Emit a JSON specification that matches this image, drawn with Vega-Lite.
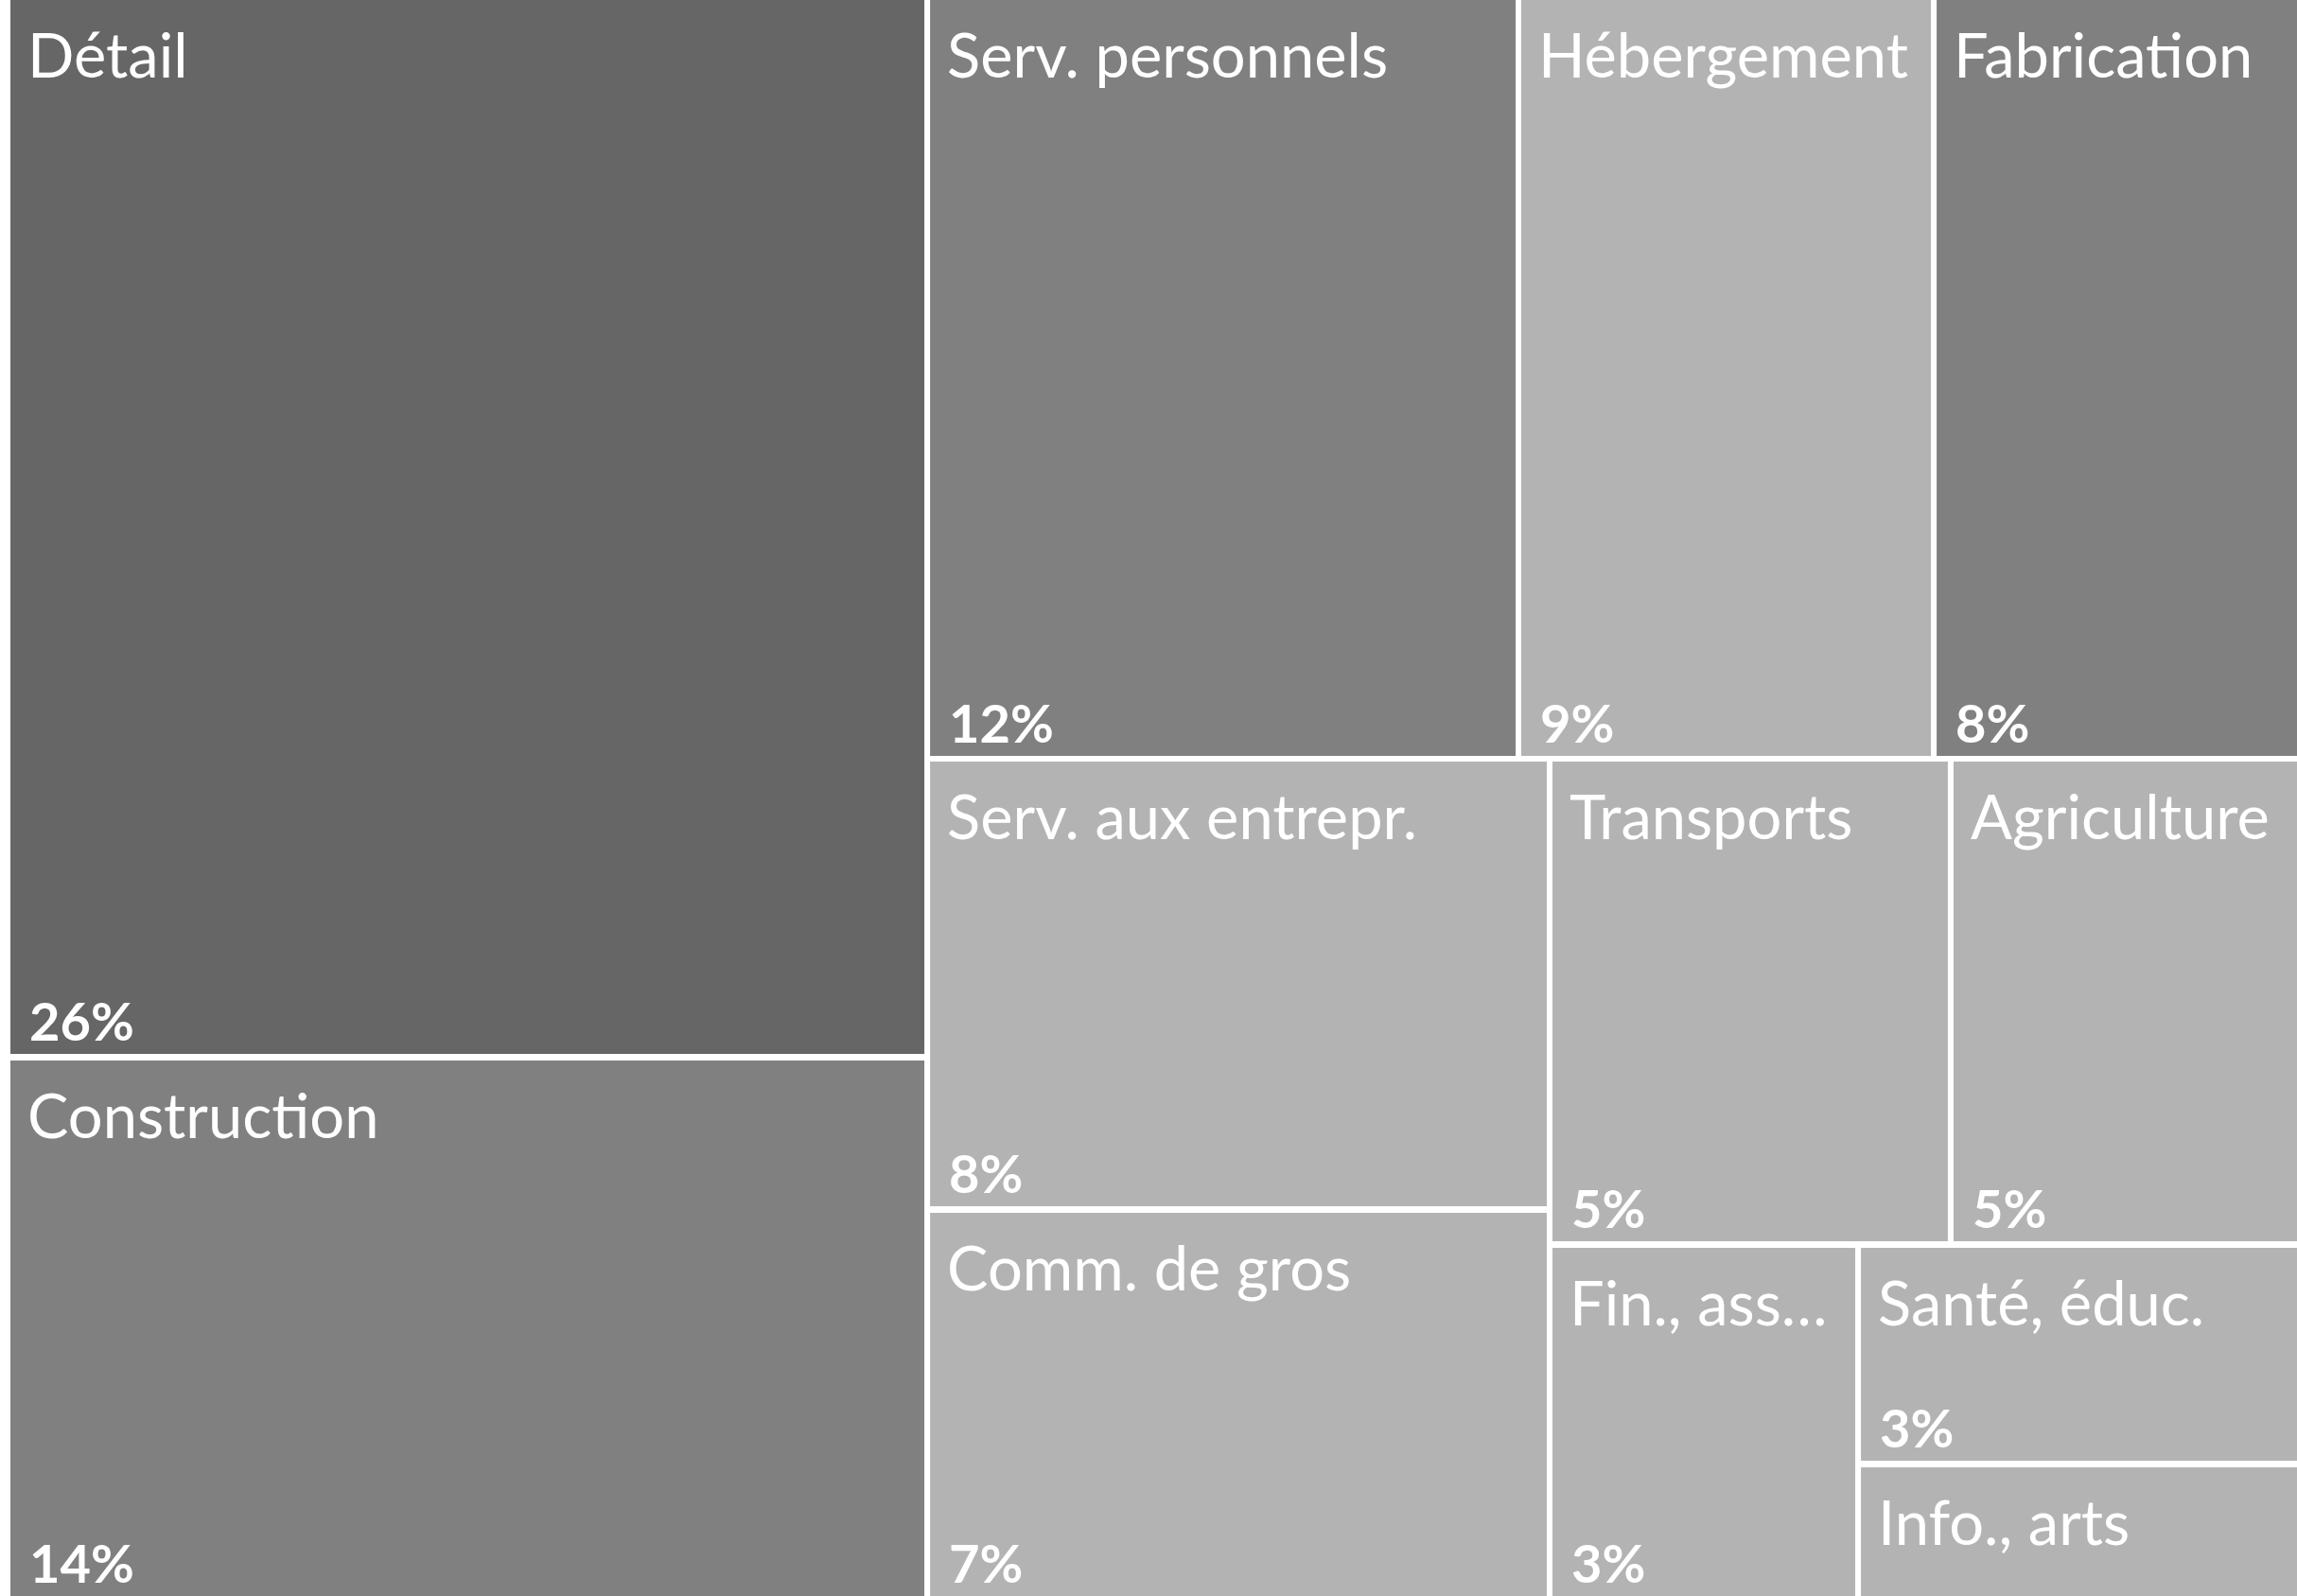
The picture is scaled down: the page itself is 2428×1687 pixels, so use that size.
{
  "$schema": "https://vega.github.io/schema/vega-lite/v6.json",
  "width": 2428,
  "height": 1687,
  "autosize": {"type": "fit", "contains": "padding"},
  "padding": {"left": 11, "right": 0, "top": 0, "bottom": 0},
  "background": "white",
  "config": {"view": {"stroke": null}},
  "data": {
    "values": [
      {"secteur": "Détail", "pct": "26%", "niveau": "a", "x0": 0, "x1": 39.97, "y0": 0, "y1": 66.03},
      {"secteur": "Construction", "pct": "14%", "niveau": "b", "x0": 0, "x1": 39.97, "y0": 66.45, "y1": 100},
      {"secteur": "Serv. personnels", "pct": "12%", "niveau": "b", "x0": 40.22, "x1": 65.83, "y0": 0, "y1": 47.36},
      {"secteur": "Hébergement", "pct": "9%", "niveau": "c", "x0": 66.07, "x1": 83.99, "y0": 0, "y1": 47.36},
      {"secteur": "Fabrication", "pct": "8%", "niveau": "b", "x0": 84.24, "x1": 100, "y0": 0, "y1": 47.36},
      {"secteur": "Serv. aux entrepr.", "pct": "8%", "niveau": "c", "x0": 40.22, "x1": 67.19, "y0": 47.72, "y1": 75.58},
      {"secteur": "Comm. de gros", "pct": "7%", "niveau": "c", "x0": 40.22, "x1": 67.19, "y0": 75.99, "y1": 100},
      {"secteur": "Transports", "pct": "5%", "niveau": "c", "x0": 67.44, "x1": 84.73, "y0": 47.72, "y1": 77.77},
      {"secteur": "Agriculture", "pct": "5%", "niveau": "c", "x0": 84.98, "x1": 100, "y0": 47.72, "y1": 77.77},
      {"secteur": "Fin., ass…", "pct": "3%", "niveau": "c", "x0": 67.44, "x1": 80.68, "y0": 78.19, "y1": 100},
      {"secteur": "Santé, éduc.", "pct": "3%", "niveau": "c", "x0": 80.93, "x1": 100, "y0": 78.19, "y1": 91.52},
      {"secteur": "Info., arts", "pct": "", "niveau": "c", "x0": 80.93, "x1": 100, "y0": 91.94, "y1": 100}
    ]
  },
  "layer": [
    {
      "mark": {"type": "rect"},
      "encoding": {
        "x": {"field": "x0", "type": "quantitative", "scale": {"domain": [0, 100], "nice": false, "zero": false}, "axis": null},
        "x2": {"field": "x1"},
        "y": {"field": "y0", "type": "quantitative", "scale": {"domain": [0, 100], "nice": false, "zero": false, "reverse": true}, "axis": null},
        "y2": {"field": "y1"},
        "color": {"field": "niveau", "type": "nominal", "scale": {"domain": ["a", "b", "c"], "range": ["#666666", "#808080", "#b3b3b3"]}, "legend": null}
      }
    },
    {
      "mark": {"type": "text", "align": "left", "baseline": "alphabetic", "dx": 18, "dy": 82, "font": "Lato", "fontSize": 65, "color": "white"},
      "encoding": {
        "x": {"field": "x0", "type": "quantitative"},
        "y": {"field": "y0", "type": "quantitative"},
        "text": {"field": "secteur"}
      }
    },
    {
      "mark": {"type": "text", "align": "left", "baseline": "alphabetic", "dx": 20, "dy": -14, "font": "Lato", "fontWeight": "bold", "fontSize": 56, "color": "white"},
      "encoding": {
        "x": {"field": "x0", "type": "quantitative"},
        "y": {"field": "y1", "type": "quantitative"},
        "text": {"field": "pct"}
      }
    }
  ]
}
